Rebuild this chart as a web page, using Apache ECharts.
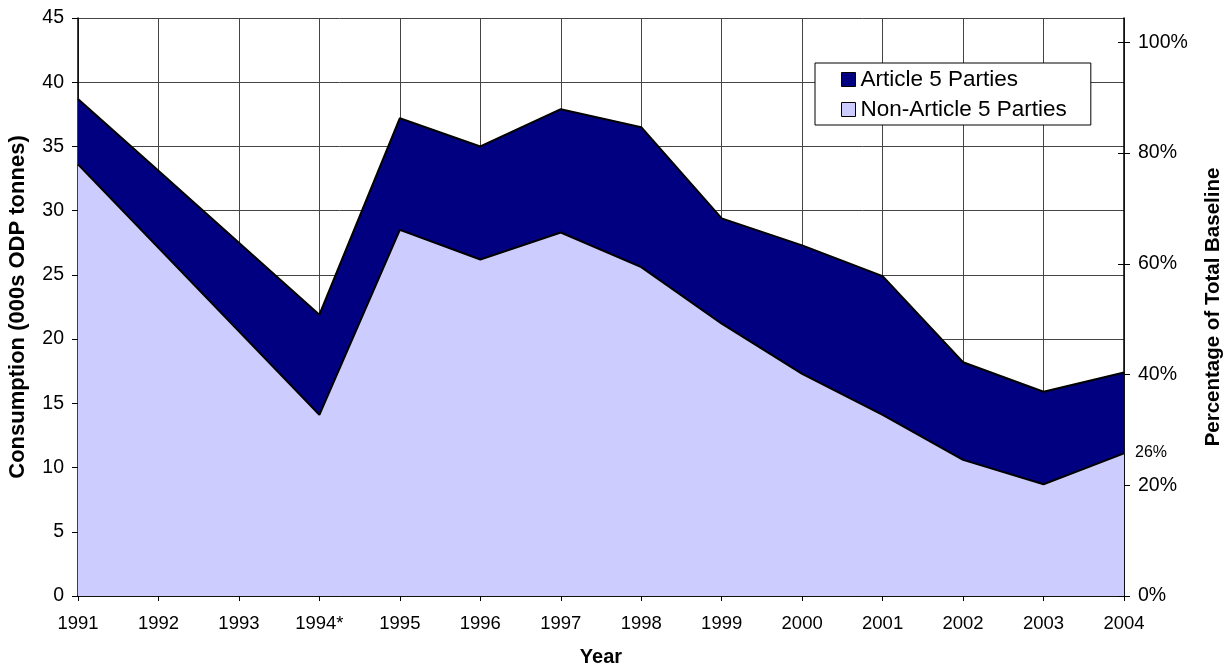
<!DOCTYPE html>
<html>
<head>
<meta charset="utf-8">
<script src="https://cdn.jsdelivr.net/npm/echarts@6/dist/echarts.min.js"></script>
<style>
html, body { margin: 0; padding: 0; background: #fff; }
#chart { width: 1232px; height: 666px; }
</style>
</head>
<body>
<div id="chart"></div>
<script>
// values (000s ODP tonnes)
var years = ['1991', '1992', '1993', '1994*', '1995', '1996', '1997', '1998', '1999', '2000', '2001', '2002', '2003', '2004'];
var nonArticle5 = [33.6, 27.1, 20.6, 14.1, 28.5, 26.2, 28.3, 25.6, 21.2, 17.3, 14.1, 10.6, 8.7, 11.1];
var article5 = [5.1, 6.0, 6.9, 7.8, 8.7, 8.8, 9.6, 10.9, 8.2, 10.0, 10.8, 7.6, 7.2, 6.3];
var pctTicks = [0, 20, 40, 60, 80, 100];
var baselineTotal = 43.1; // = 100% on the right axis
var leftMax = 45;

var FONT = '"Liberation Sans", Arial, sans-serif';
var gridColor = '#444';

var chart = echarts.init(document.getElementById('chart'));

var option = {
    animation: false,
    backgroundColor: '#fff',
    textStyle: { fontFamily: FONT, color: '#000' },
    grid: { left: 78, right: 108, top: 18, bottom: 70, outerBoundsMode: 'none' },
    legend: {
        data: ['Article 5 Parties', 'Non-Article 5 Parties'],
        orient: 'vertical',
        left: 815,
        top: 63,
        padding: [5, 24, 4, 26],
        itemGap: 7,
        itemWidth: 14,
        itemHeight: 14,
        icon: 'rect',
        backgroundColor: '#fff',
        borderColor: '#000',
        borderWidth: 1,
        borderRadius: 0,
        itemStyle: { borderColor: '#000', borderWidth: 1 },
        textStyle: { fontFamily: FONT, fontSize: 22.5, color: '#000' }
    },
    xAxis: {
        type: 'category',
        data: years,
        boundaryGap: false,
        name: 'Year',
        nameLocation: 'middle',
        nameGap: 51,
        nameTextStyle: { fontFamily: FONT, fontSize: 20, fontWeight: 'bold', color: '#000' },
        axisLine: { lineStyle: { color: '#000', width: 1.5 } },
        axisTick: { show: true, length: 5, alignWithLabel: true, lineStyle: { color: '#000' } },
        axisLabel: { interval: 0, margin: 18, fontSize: 18.5, color: '#000', fontFamily: FONT },
        splitLine: { show: true, lineStyle: { color: gridColor, width: 1 } }
    },
    yAxis: [{
        type: 'value',
        min: 0,
        max: leftMax,
        interval: 5,
        position: 'left',
        name: 'Consumption (000s ODP tonnes)',
        nameLocation: 'middle',
        nameRotate: 90,
        nameGap: 49,
        nameTextStyle: { fontFamily: FONT, fontSize: 22, fontWeight: 'bold', color: '#000' },
        axisLine: { show: true, lineStyle: { color: '#000', width: 1.5 } },
        axisTick: { show: true, length: 6, lineStyle: { color: '#000' } },
        axisLabel: { margin: 14, fontSize: 19.5, color: '#000', fontFamily: FONT },
        splitLine: { show: true, lineStyle: { color: gridColor, width: 1 } }
    }, {
        type: 'value',
        min: 0,
        max: leftMax / baselineTotal * 100,
        position: 'right',
        name: 'Percentage of Total Baseline',
        nameLocation: 'middle',
        nameRotate: 90,
        nameGap: 79,
        nameTextStyle: { fontFamily: FONT, fontSize: 20.5, fontWeight: 'bold', color: '#000' },
        axisLine: { show: true, lineStyle: { color: '#000', width: 1.5 } },
        axisTick: { show: true, length: 6, customValues: pctTicks, lineStyle: { color: '#000' } },
        axisLabel: {
            margin: 14, fontSize: 19.5, color: '#000', fontFamily: FONT,
            customValues: pctTicks,
            formatter: '{value}%'
        },
        splitLine: { show: false }
    }, {
        // inner half of the crossing ticks on the right axis
        type: 'value',
        min: 0,
        max: leftMax / baselineTotal * 100,
        position: 'right',
        axisLine: { show: false },
        axisTick: { show: true, inside: true, length: 6, customValues: pctTicks, lineStyle: { color: '#000' } },
        axisLabel: { show: false },
        splitLine: { show: false }
    }],
    series: [{
        name: 'Non-Article 5 Parties',
        type: 'line',
        stack: 'total',
        data: nonArticle5,
        showSymbol: false,
        symbol: 'none',
        itemStyle: { color: '#CCCCFF' },
        lineStyle: { color: '#000', width: 2 },
        areaStyle: { color: '#CCCCFF', opacity: 1 },
        endLabel: {
            show: true,
            distance: 11,
            offset: [0, -1],
            fontSize: 16,
            fontFamily: FONT,
            color: '#000',
            formatter: function (p) { return Math.round(p.value / baselineTotal * 100) + '%'; }
        },
        z: 2
    }, {
        name: 'Article 5 Parties',
        type: 'line',
        stack: 'total',
        data: article5,
        showSymbol: false,
        symbol: 'none',
        itemStyle: { color: '#000080' },
        lineStyle: { color: '#000', width: 2 },
        areaStyle: { color: '#000080', opacity: 1 },
        z: 2
    }]
};

chart.setOption(option);
</script>
</body>
</html>
